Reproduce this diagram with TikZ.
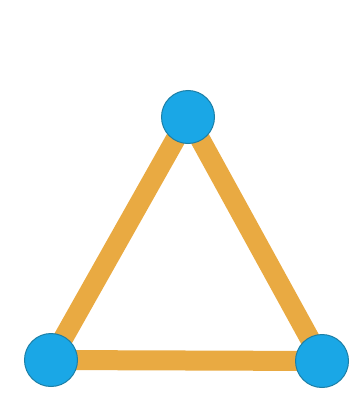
\documentclass[tikz,border=0pt]{standalone}
\usepackage{xcolor}
\usepackage{tikz}
\usetikzlibrary{backgrounds}
\definecolor{stickorange}{HTML}{E9AA42}
\definecolor{ballblue}{HTML}{1AA7E6}
\definecolor{balledge}{HTML}{1D7FA6}

\begin{document}
\begin{tikzpicture}[x=1pt, y=-1pt,
    ball/.style={circle, draw=balledge, line width=1pt, fill=ballblue,
                 minimum size=53pt, inner sep=0pt},
    stick/.style={draw=stickorange, line width=20pt}]
  \useasboundingbox (0,0) rectangle (361,396);
  % balls
  \node[ball] (top)   at (188,117) {};
  \node[ball] (left)  at (51,360)  {};
  \node[ball] (right) at (322,361) {};
  % sticks behind the balls
  \begin{scope}[on background layer]
    \draw[stick] (top.center) -- (left.center);
    \draw[stick] (top.center) -- (right.center);
    \draw[stick] (left.center) -- (right.center);
  \end{scope}
\end{tikzpicture}
\end{document}
